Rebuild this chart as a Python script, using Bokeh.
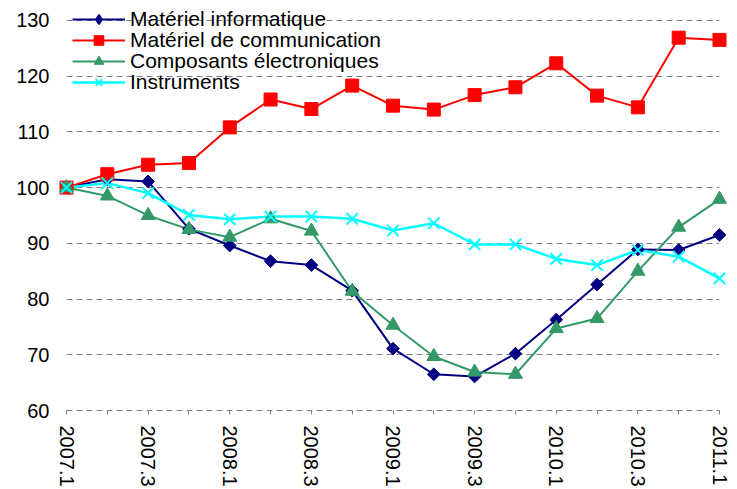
import numpy as np
from bokeh.plotting import figure
from bokeh.models import Range1d, FixedTicker, Legend, LegendItem
from bokeh.embed import file_html
from bokeh.resources import INLINE

quarters = ["2007.1", "2007.2", "2007.3", "2007.4",
            "2008.1", "2008.2", "2008.3", "2008.4",
            "2009.1", "2009.2", "2009.3", "2009.4",
            "2010.1", "2010.2", "2010.3", "2010.4",
            "2011.1"]

informatique = [100, 101.5, 101.1, 92.6, 89.6, 86.8, 86.1, 81.5, 71.1, 66.5,
                66.1, 70.2, 76.3, 82.6, 88.9, 88.8, 91.5]
communication = [100, 102.4, 104.1, 104.4, 110.8, 115.8, 114.1, 118.3, 114.7,
                 114.0, 116.6, 118.0, 122.3, 116.5, 114.4, 126.9, 126.5]
composants = [100, 98.5, 95.0, 92.5, 91.1, 94.4, 92.2, 81.4, 75.3, 69.7,
              66.9, 66.5, 74.7, 76.5, 85.0, 92.9, 97.9]
instruments = [100, 100.8, 99.0, 95.1, 94.3, 94.8, 94.8, 94.4, 92.3, 93.6,
               89.8, 89.8, 87.2, 86.1, 88.8, 87.6, 83.7]

series_names = ["Matériel informatique", "Matériel de communication",
                "Composants électroniques", "Instruments"]
y_ticks = [60, 70, 80, 90, 100, 110, 120, 130]

x = list(range(len(quarters)))

FRAME_H = 489 - 77
PX_PER_UNIT = 5.6
p = figure(width=737, height=489, output_backend="svg", toolbar_location=None,
           x_range=Range1d(0, len(quarters) - 1),
           y_range=Range1d(60, 60 + FRAME_H / PX_PER_UNIT),
           min_border_left=66, min_border_right=18, min_border_top=0,
           min_border_bottom=77, title=None)
p.outline_line_color = None
p.background_fill_color = "white"
p.border_fill_color = "white"

FONT = "Liberation Sans"
GRAY = "#808080"

# grid
p.xgrid.grid_line_color = None
p.ygrid.ticker = FixedTicker(ticks=y_ticks[1:])
p.ygrid.grid_line_color = GRAY
p.ygrid.grid_line_dash = "6 4"
p.ygrid.grid_line_width = 1

# y axis
p.yaxis.ticker = FixedTicker(ticks=y_ticks)
p.yaxis.axis_line_color = None
p.yaxis.major_tick_line_color = None
p.yaxis.minor_tick_line_color = None
p.yaxis.major_tick_out = 0
p.yaxis.major_tick_in = 0
p.yaxis.major_label_standoff = 17
p.yaxis.major_label_text_font = FONT
p.yaxis.major_label_text_font_size = "20px"
p.yaxis.major_label_text_color = "black"

# x axis
evens = [i for i in x if i % 2 == 0]
odds = [i for i in x if i % 2 == 1]
p.xaxis.ticker = FixedTicker(ticks=evens, minor_ticks=odds)
p.xaxis.major_label_overrides = {i: quarters[i] for i in evens}
p.xaxis.axis_line_color = GRAY
p.xaxis.axis_line_dash = "6 4"
p.xaxis.axis_line_width = 1
p.xaxis.major_tick_line_color = GRAY
p.xaxis.minor_tick_line_color = GRAY
p.xaxis.major_tick_out = 4
p.xaxis.major_tick_in = 0
p.xaxis.minor_tick_out = 4
p.xaxis.minor_tick_in = 0
p.xaxis.major_label_orientation = -np.pi / 2
p.xaxis.major_label_standoff = 11
p.xaxis.major_label_text_font = FONT
p.xaxis.major_label_text_font_size = "20px"
p.xaxis.major_label_text_color = "black"

styles = [
    dict(color="#000080", marker="square", size=9, angle=np.pi / 4, lw=2,
         legend_marker="diamond"),
    dict(color="#FF0000", marker="square", size=13, angle=0, lw=2,
         legend_marker=None),
    dict(color="#339966", marker="triangle", size=14, angle=0, lw=2,
         legend_marker=None),
    dict(color="#00FFFF", marker="x", size=16, angle=0, lw=2.5,
         legend_marker=None),
]
data = [informatique, communication, composants, instruments]

ROW_H = 24
for i, (name, vals, st) in enumerate(zip(series_names, data, styles)):
    lr = p.line(x, vals, line_color=st["color"], line_width=st["lw"])
    if st["marker"] == "x":
        sr = p.scatter(x, vals, marker="x", size=st["size"],
                       line_color=st["color"], line_width=2)
    else:
        sr = p.scatter(x, vals, marker=st["marker"], size=st["size"],
                       angle=st["angle"], fill_color=st["color"],
                       line_color=st["color"], line_width=1)
    sr.level = "overlay"
    legend_renderers = [lr, sr]
    if st["legend_marker"] is not None:
        # hidden twin glyph so that the legend shows a diamond
        dr = p.scatter(x, vals, marker=st["legend_marker"], size=st["size"],
                       fill_color=st["color"], line_color=st["color"],
                       line_width=1.5, visible=False)
        legend_renderers = [lr, dr]
    # one legend per row, rows 21px apart
    legend = Legend(items=[LegendItem(label=name, renderers=legend_renderers)],
                    location=(6, 379 - 21 * i), orientation="vertical",
                    background_fill_alpha=0, border_line_color=None,
                    inactive_fill_alpha=0,
                    padding=0, margin=0, spacing=0,
                    label_height=ROW_H, glyph_height=ROW_H, glyph_width=53,
                    label_standoff=5, label_text_font=FONT,
                    label_text_font_size="21px", label_text_color="black")
    p.add_layout(legend)

open("out.html", "w").write(file_html(p, INLINE))
